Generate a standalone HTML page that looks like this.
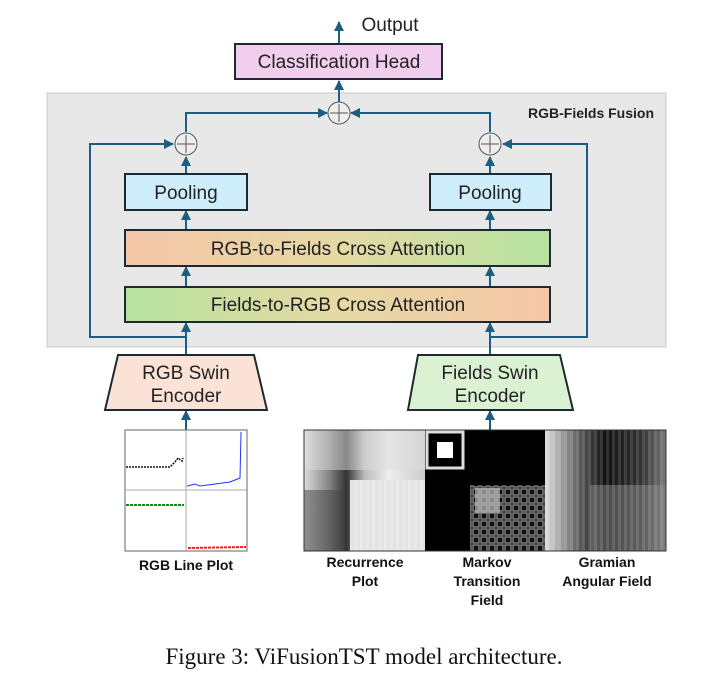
<!DOCTYPE html>
<html><head><meta charset="utf-8"><style>
body{margin:0;background:#fff;}
svg{display:block;}
text{font-family:"Liberation Sans",sans-serif;}
</style></head><body>
<svg width="702" height="678" viewBox="0 0 702 678" xmlns="http://www.w3.org/2000/svg">
<defs>
<marker id="a" viewBox="0 0 10 10" refX="9" refY="5" markerWidth="5" markerHeight="5" orient="auto"><path d="M0,0L10,5L0,10z" fill="#1d5e80"/></marker>
<linearGradient id="og" x1="0" x2="1"><stop offset="0" stop-color="#f5c6a8"/><stop offset="0.5" stop-color="#e6d9a4"/><stop offset="1" stop-color="#b6e2a0"/></linearGradient>
<linearGradient id="go" x1="0" x2="1"><stop offset="0" stop-color="#b6e2a0"/><stop offset="0.5" stop-color="#e6d9a4"/><stop offset="1" stop-color="#f5c6a8"/></linearGradient>
<linearGradient id="rp" x1="0" x2="1"><stop offset="0" stop-color="#ddd"/><stop offset="0.2" stop-color="#888"/><stop offset="0.35" stop-color="#333"/><stop offset="0.5" stop-color="#bbb"/><stop offset="0.7" stop-color="#eee"/><stop offset="1" stop-color="#ccc"/></linearGradient>
<linearGradient id="gaf" x1="0" x2="1"><stop offset="0" stop-color="#ddd"/><stop offset="0.3" stop-color="#555"/><stop offset="0.5" stop-color="#111"/><stop offset="0.8" stop-color="#333"/><stop offset="1" stop-color="#777"/></linearGradient>
<pattern id="grid" width="8" height="8" patternUnits="userSpaceOnUse"><rect width="8" height="8" fill="#111"/><rect x="1" y="1" width="6" height="6" fill="none" stroke="#aaa" stroke-width="1"/></pattern>
<pattern id="stripe" width="6" height="6" patternUnits="userSpaceOnUse"><rect width="3" height="6" fill="#fff" opacity="0.25"/></pattern>
</defs>
<rect x="47" y="93" width="619" height="254" fill="#e8e8e8" stroke="#c8c8c8"/>
<text x="654" y="118" font-size="14" font-weight="bold" text-anchor="end" fill="#222">RGB-Fields Fusion</text>

<g stroke="#1d5e80" stroke-width="2" fill="none">
<line x1="339" y1="44" x2="339" y2="22" marker-end="url(#a)"/>
<line x1="339" y1="102" x2="339" y2="81" marker-end="url(#a)"/>
<polyline points="186,132 186,113 327,113" marker-end="url(#a)"/>
<polyline points="490,132 490,113 351,113" marker-end="url(#a)"/>
<line x1="186" y1="174" x2="186" y2="157" marker-end="url(#a)"/>
<line x1="490" y1="174" x2="490" y2="157" marker-end="url(#a)"/>
<line x1="186" y1="230" x2="186" y2="211" marker-end="url(#a)"/>
<line x1="490" y1="230" x2="490" y2="211" marker-end="url(#a)"/>
<line x1="186" y1="287" x2="186" y2="267" marker-end="url(#a)"/>
<line x1="490" y1="287" x2="490" y2="267" marker-end="url(#a)"/>
<line x1="186" y1="355" x2="186" y2="323" marker-end="url(#a)"/>
<line x1="490" y1="355" x2="490" y2="323" marker-end="url(#a)"/>
<polyline points="186,337 90,337 90,144 173,144" marker-end="url(#a)"/>
<polyline points="490,337 587,337 587,144 503,144" marker-end="url(#a)"/>
<line x1="186" y1="430" x2="186" y2="411" marker-end="url(#a)"/>
<line x1="490" y1="430" x2="490" y2="411" marker-end="url(#a)"/>
</g>
<g stroke="#555" stroke-width="1" fill="#eee">
<circle cx="339" cy="113" r="11"/><circle cx="186" cy="144" r="11"/><circle cx="490" cy="144" r="11"/>
</g>
<g stroke="#555" stroke-width="1">
<line x1="330" y1="113" x2="348" y2="113"/><line x1="339" y1="104" x2="339" y2="122"/>
<line x1="177" y1="144" x2="195" y2="144"/><line x1="186" y1="135" x2="186" y2="153"/>
<line x1="481" y1="144" x2="499" y2="144"/><line x1="490" y1="135" x2="490" y2="153"/>
</g>

<g stroke="#1e2a33" stroke-width="2">
<rect x="235" y="44" width="207" height="35" fill="#f1cdee"/>
<rect x="125" y="174" width="122" height="36" fill="#cdeefa"/>
<rect x="430" y="174" width="121" height="36" fill="#cdeefa"/>
<rect x="125" y="230" width="425" height="36" fill="url(#og)"/>
<rect x="125" y="287" width="425" height="35" fill="url(#go)"/>
<polygon points="118,355 254,355 267,410 105,410" fill="#fbe2d6"/>
<polygon points="418,355 560,355 573,410 408,410" fill="#daf2d2"/>
</g>
<g font-size="19" fill="#222" text-anchor="middle">
<text x="390" y="31">Output</text>
<text x="339" y="68">Classification Head</text>
<text x="186" y="199">Pooling</text>
<text x="490" y="199">Pooling</text>
<text x="338" y="255">RGB-to-Fields Cross Attention</text>
<text x="338" y="311">Fields-to-RGB Cross Attention</text>
<text x="186" y="379">RGB Swin</text>
<text x="186" y="402">Encoder</text>
<text x="490" y="379">Fields Swin</text>
<text x="490" y="402">Encoder</text>
</g>

<rect x="125" y="430" width="122" height="121" fill="#fff" stroke="#666"/>
<line x1="186" y1="430" x2="186" y2="551" stroke="#aaa"/>
<line x1="125" y1="490" x2="247" y2="490" stroke="#aaa"/>
<polyline points="126,467 170,467 175,462 178,458 182,461 183,458" fill="none" stroke="#111" stroke-width="1.5" stroke-dasharray="2,1"/>
<polyline points="187,486 195,484 200,486 215,484 230,482 235,480 240,478 241,432" fill="none" stroke="#2233ff" stroke-width="1"/>
<line x1="126" y1="505" x2="184" y2="505" stroke="#118811" stroke-width="2" stroke-dasharray="3,1"/>
<line x1="188" y1="548" x2="246" y2="547" stroke="#ee2222" stroke-width="2" stroke-dasharray="3,1"/>

<rect x="304" y="430" width="121" height="121" fill="url(#rp)"/>
<rect x="304" y="430" width="121" height="40" fill="#ddd" opacity="0.5"/>
<rect x="304" y="490" width="40" height="61" fill="#444" opacity="0.5"/>
<rect x="350" y="480" width="75" height="71" fill="#e4e4e4"/>
<rect x="350" y="480" width="75" height="71" fill="url(#stripe)" opacity="0.8"/>
<rect x="425" y="430" width="120" height="121" fill="#000"/>
<rect x="427" y="432" width="36" height="36" fill="none" stroke="#ddd" stroke-width="3"/>
<rect x="437" y="442" width="16" height="16" fill="#fff"/>
<rect x="470" y="485" width="75" height="66" fill="url(#grid)"/>
<rect x="475" y="488" width="25" height="25" fill="#bbb" opacity="0.7"/>
<rect x="545" y="430" width="121" height="121" fill="url(#gaf)"/>
<rect x="590" y="485" width="76" height="66" fill="#888" opacity="0.5"/>
<rect x="545" y="430" width="121" height="121" fill="url(#stripe)" opacity="0.5"/>
<rect x="304" y="430" width="362" height="121" fill="none" stroke="#333"/>

<g font-size="14" font-weight="bold" fill="#111" text-anchor="middle">
<text x="186" y="570">RGB Line Plot</text>
<text x="365" y="567">Recurrence</text>
<text x="365" y="586">Plot</text>
<text x="487" y="567">Markov</text>
<text x="487" y="586">Transition</text>
<text x="487" y="605">Field</text>
<text x="607" y="567">Gramian</text>
<text x="607" y="586">Angular Field</text>
</g>
<text x="364" y="664" font-size="23" text-anchor="middle" style="font-family:'Liberation Serif',serif" fill="#111">Figure 3: ViFusionTST model architecture.</text>
</svg>
</body></html>
